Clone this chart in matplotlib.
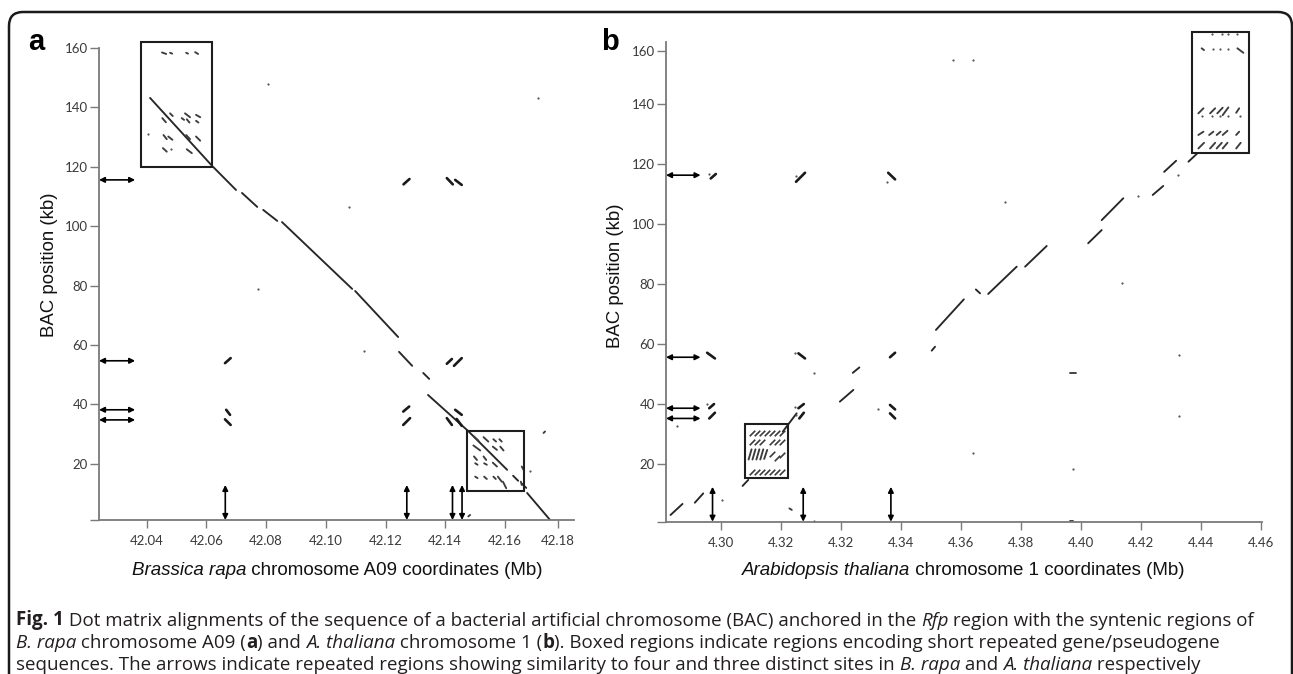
import matplotlib.pyplot as plt
from matplotlib.patches import Rectangle, FancyBboxPatch
from matplotlib.transforms import IdentityTransform

W, H = 1293, 674

# ---------------- panel a : B. rapa A09 (Mb) vs BAC (kb) ----------------
a_xlim = (42.0240, 42.1831)
a_ylim = (1.1, 160)
a_xticks = [42.04, 42.06, 42.08, 42.10, 42.12, 42.14, 42.16, 42.1777]
a_xlabels = ['42.04', '42.06', '42.08', '42.10', '42.12', '42.14', '42.16', '42.18']
a_yticks = [1.1, 20, 40, 60, 80, 100, 120, 140, 160]
a_ylabels = ['', '20', '40', '60', '80', '100', '120', '140', '160']

# main syntenic diagonal, (x0, y0, x1, y1)
a_diag = [
    (42.0411, 143.2, 42.0619, 120.3),
    (42.0622, 120.0, 42.0699, 112.2),
    (42.0719, 111.2, 42.0770, 106.5),
    (42.0790, 105.5, 42.0837, 101.8),
    (42.0853, 101.4, 42.1088, 78.9),
    (42.1098, 78.2, 42.1242, 62.7),
    (42.1245, 57.7, 42.1289, 53.0),
    (42.1326, 50.6, 42.1346, 48.6),
    (42.1342, 43.2, 42.1476, 31.1),
    (42.1476, 31.1, 42.1607, 18.0),
    (42.1627, 16.0, 42.1644, 14.3),
    (42.1657, 13.3, 42.1671, 11.9),
    (42.1674, 10.2, 42.1751, 1.1),
]

# repeated hits off the diagonal
a_repeats = [
    (42.0662, 53.9, 42.0681, 55.6),
    (42.0666, 38.2, 42.0679, 36.5),
    (42.0662, 35.0, 42.0681, 33.1),
    (42.1260, 114.1, 42.1280, 115.9),
    (42.1259, 37.6, 42.1279, 39.3),
    (42.1259, 33.1, 42.1282, 35.4),
    (42.1405, 116.2, 42.1425, 114.1),
    (42.1433, 115.6, 42.1455, 113.9),
    (42.1405, 53.7, 42.1422, 55.3),
    (42.1429, 53.0, 42.1455, 55.6),
    (42.1405, 35.4, 42.1422, 33.1),
    (42.1433, 38.2, 42.1455, 36.5),
    (42.1438, 35.1, 42.1455, 32.8),
]

# short hits inside the two boxes
a_box_hits = [
    (42.0451, 158.5, 42.0465, 158.0), (42.0478, 158.4, 42.0485, 158.1),
    (42.0532, 158.4, 42.0538, 158.1), (42.0562, 158.6, 42.0572, 158.0),
    (42.0452, 136.4, 42.0464, 135.0), (42.0478, 138.0, 42.0487, 137.1),
    (42.0528, 138.0, 42.0545, 136.7), (42.0517, 136.4, 42.0525, 135.8),
    (42.0534, 136.0, 42.0543, 134.9), (42.0565, 137.5, 42.0579, 136.7),
    (42.0565, 135.5, 42.0573, 134.9),
    (42.0456, 130.7, 42.0467, 129.3), (42.0472, 130.2, 42.0486, 129.1),
    (42.0532, 130.7, 42.0545, 129.3), (42.0565, 130.2, 42.0579, 128.8),
    (42.0454, 126.3, 42.0467, 125.1), (42.0534, 125.9, 42.0551, 124.6),
    (42.1496, 29.2, 42.1511, 27.8), (42.1528, 29.0, 42.1544, 27.5),
    (42.1561, 28.3, 42.1570, 27.5), (42.1581, 28.3, 42.1589, 27.5),
    (42.1494, 26.2, 42.1517, 24.5), (42.1559, 25.8, 42.1573, 24.7),
    (42.1584, 25.8, 42.1595, 24.5),
    (42.1496, 22.5, 42.1506, 21.3), (42.1528, 22.5, 42.1537, 21.3),
    (42.1500, 20.2, 42.1508, 19.7), (42.1530, 20.2, 42.1539, 19.7),
    (42.1559, 20.4, 42.1573, 19.1),
    (42.1500, 15.7, 42.1508, 15.2), (42.1530, 15.7, 42.1539, 14.9),
    (42.1561, 15.7, 42.1569, 14.9), (42.1576, 15.7, 42.1589, 14.0),
    (42.1593, 14.0, 42.1604, 11.8),
    (42.1729, 30.4, 42.1734, 30.9), (42.1656, 19.1, 42.1662, 18.0),
    (42.1653, 14.0, 42.1656, 12.9), (42.1483, 2.8, 42.1477, 2.3),
]
a_dots = [(42.0403, 131.1), (42.0480, 126.0), (42.0807, 147.8), (42.0771, 79.0),
          (42.1712, 143.1), (42.1079, 106.6), (42.1126, 58.0), (42.1684, 17.7)]

a_boxes = [(42.0381, 120.1, 42.0620, 162.1), (42.1474, 10.9, 42.1662, 31.2)]
a_harrow_y = [115.6, 54.7, 38.2, 34.8]
a_harrow_end = 42.0361
a_varrow_x = [42.0663, 42.1271, 42.1424, 42.1456]
a_varrow_top = 12.9

# ---------------- panel b : A. thaliana chr 1 (Mb) vs BAC (kb) ----------------
b_xlim = (4.2618, 4.4602)
b_ylim = (0.87, 160.9)
b_xticks = [4.28, 4.30, 4.32, 4.34, 4.36, 4.38, 4.40, 4.42, 4.44, 4.46]
b_xlabels = ['4.30', '4.32', '4.32', '4.34', '4.36', '4.38', '4.40', '4.42', '4.44', '4.46']
b_yticks = [0.87, 20, 40, 60, 80, 100, 120, 140, 157.9]
b_ylabels = ['', '20', '40', '60', '80', '100', '120', '140', '160']

b_diag = [
    (4.2633, 3.1, 4.2673, 6.8),
    (4.2714, 7.2, 4.2742, 10.3),
    (4.2873, 12.8, 4.2892, 14.8),
    (4.3007, 30.9, 4.3053, 37.0),
    (4.3197, 40.9, 4.3242, 44.8),
    (4.3240, 50.5, 4.3262, 52.3),
    (4.3503, 57.9, 4.3514, 59.2),
    (4.3517, 64.8, 4.3610, 75.0),
    (4.3650, 78.3, 4.3664, 77.0),
    (4.3691, 76.8, 4.3786, 85.9),
    (4.3814, 85.9, 4.3886, 92.8),
    (4.4024, 93.7, 4.4069, 98.1),
    (4.4069, 101.4, 4.4141, 108.7),
    (4.4239, 109.8, 4.4274, 112.8),
    (4.4277, 117.5, 4.4317, 121.2),
    (4.4358, 120.9, 4.4388, 123.7),
]

b_repeats = [
    (4.2767, 115.3, 4.2784, 116.8),
    (4.2755, 57.2, 4.2781, 55.3),
    (4.2762, 38.7, 4.2778, 40.1),
    (4.2762, 35.3, 4.2781, 37.2),
    (4.3051, 114.2, 4.3081, 117.2),
    (4.3059, 57.0, 4.3081, 55.3),
    (4.3059, 38.7, 4.3077, 40.1),
    (4.3062, 35.3, 4.3077, 37.2),
    (4.3358, 117.2, 4.3381, 115.0),
    (4.3364, 55.7, 4.3381, 57.2),
    (4.3364, 39.8, 4.3381, 38.3),
    (4.3364, 37.0, 4.3381, 35.3),
]

b_box_hits = [
    (4.4402, 158.7, 4.4410, 158.1), (4.4521, 158.7, 4.4541, 157.2),
    (4.4391, 137.0, 4.4408, 138.7), (4.4430, 137.0, 4.4447, 138.7),
    (4.4454, 137.0, 4.4472, 138.9), (4.4472, 136.4, 4.4491, 139.0),
    (4.4517, 137.2, 4.4527, 138.7),
    (4.4391, 129.8, 4.4408, 130.9), (4.4427, 129.8, 4.4441, 130.9),
    (4.4452, 129.8, 4.4465, 130.9), (4.4472, 129.8, 4.4488, 131.2),
    (4.4517, 129.8, 4.4527, 130.9),
    (4.4391, 125.3, 4.4410, 127.2), (4.4430, 125.3, 4.4447, 127.2),
    (4.4452, 125.3, 4.4469, 127.2), (4.4472, 125.3, 4.4488, 127.2),
    (4.4517, 125.3, 4.4532, 127.2),
    (4.2893, 21.6, 4.2903, 25.0), (4.2906, 21.6, 4.2916, 25.0),
    (4.2919, 21.6, 4.2929, 25.0), (4.2932, 21.6, 4.2942, 25.0),
    (4.2945, 21.8, 4.2955, 24.8),
    (4.3029, 5.3, 4.3037, 4.8), (4.3964, 50.5, 4.3984, 50.5),
    (4.3964, 1.1, 4.3973, 1.1),
]
# small slash-shaped hits in the lower-left box of b
b_box_ticks = [
    (4.2903, 30.3), (4.2920, 30.3), (4.2937, 30.3), (4.2953, 30.3),
    (4.2970, 30.3), (4.2987, 30.3), (4.3003, 30.3),
    (4.2903, 27.3), (4.2920, 27.3), (4.2937, 27.3),
    (4.2970, 27.3), (4.2987, 27.3), (4.3003, 27.3),
    (4.2970, 23.5), (4.2987, 22.0), (4.3003, 23.0),
    (4.2903, 17.5), (4.2920, 17.5), (4.2937, 17.5), (4.2953, 17.5),
    (4.2970, 17.5), (4.2987, 17.5), (4.3003, 17.5),
]
b_dots = [(4.2762, 116.8), (4.2755, 40.1), (4.3051, 116.1), (4.3047, 57.0),
          (4.3047, 39.2), (4.3051, 36.4), (4.3355, 114.2), (4.3325, 38.3),
          (4.3112, 50.5), (4.3112, 1.2), (4.2803, 8.1), (4.2653, 32.9),
          (4.3575, 154.8), (4.3641, 154.8), (4.3747, 107.5), (4.4136, 80.4),
          (4.4328, 56.4), (4.4328, 36.2), (4.3973, 18.3), (4.4191, 109.4),
          (4.4324, 116.4), (4.3641, 23.7),
          (4.4435, 163.4), (4.4469, 163.4), (4.4491, 163.4), (4.4521, 163.4),
          (4.4441, 158.3), (4.4463, 158.4), (4.4491, 158.3),
          (4.4402, 136.1), (4.4435, 136.1), (4.4463, 136.1), (4.4491, 136.1), (4.4530, 136.1)]

b_boxes = [(4.2881, 15.3, 4.3023, 33.4), (4.4369, 123.9, 4.4561, 164.2)]
b_harrow_y = [116.4, 55.7, 38.7, 35.3]
b_harrow_end = 4.2733
b_varrow_x = [4.2773, 4.3075, 4.3367]
b_varrow_top = 12.5

caption = [
    [("Fig. 1", "b"), (" Dot matrix alignments of the sequence of a bacterial artificial chromosome (BAC) anchored in the ", "n"),
     ("Rfp", "i"), (" region with the syntenic regions of", "n")],
    [("B. rapa", "i"), (" chromosome A09 (", "n"), ("a", "b"), (") and ", "n"), ("A. thaliana", "i"),
     (" chromosome 1 (", "n"), ("b", "b"), ("). Boxed regions indicate regions encoding short repeated gene/pseudogene", "n")],
    [("sequences. The arrows indicate repeated regions showing similarity to four and three distinct sites in ", "n"),
     ("B. rapa", "i"), (" and ", "n"), ("A. thaliana", "i"), (" respectively", "n")],
]

AXIS_GREY = '#7a7a7a'
INK = '#262626'

fig = plt.figure(figsize=(W / 100, H / 100), dpi=100)


def px_rect(left, top, right, bottom):
    return [left / W, 1 - bottom / H, (right - left) / W, (bottom - top) / H]


def style_axes(ax, xlim, ylim, xticks, xlabels, yticks, ylabels):
    ax.set_xlim(*xlim)
    ax.set_ylim(*ylim)
    for s in ['top', 'right']:
        ax.spines[s].set_visible(False)
    for s in ['left', 'bottom']:
        ax.spines[s].set_color(AXIS_GREY)
        ax.spines[s].set_linewidth(1.3)
    ax.set_xticks(xticks)
    ax.set_xticklabels(xlabels, family='Lato', fontsize=9.5, color='#3a3a3a')
    ax.set_yticks(yticks)
    ax.set_yticklabels(ylabels, family='Lato', fontsize=9.5, color='#3a3a3a')
    ax.tick_params(axis='x', length=6, width=1, color=AXIS_GREY, pad=5)
    ax.tick_params(axis='y', length=6.5, width=1, color=AXIS_GREY, pad=1.5)
    ax.patch.set_alpha(0)


def draw_panel(ax, diag, repeats, hits, dots, boxes, hy, hend, vx, vtop, xlim, ylim):
    for x0, y0, x1, y1 in diag:
        ax.plot([x0, x1], [y0, y1], color=INK, lw=1.35, solid_capstyle='round')
    for x0, y0, x1, y1 in repeats:
        ax.plot([x0, x1], [y0, y1], color='#1a1a1a', lw=1.9, solid_capstyle='round')
    for x0, y0, x1, y1 in hits:
        ax.plot([x0, x1], [y0, y1], color='#3c3c3c', lw=1.35, solid_capstyle='round', clip_on=False)
    ax.plot([d[0] for d in dots], [d[1] for d in dots], 'o', ms=1.6, color='#555555',
            mew=0, clip_on=False)
    for x0, y0, x1, y1 in boxes:
        ax.add_patch(Rectangle((x0, y0), x1 - x0, y1 - y0, fill=False, lw=1.5,
                               ec='#1e1e1e', clip_on=False, zorder=3))
    arrow = dict(arrowstyle='<|-|>', color='black', lw=1.2, mutation_scale=8,
                 shrinkA=0, shrinkB=0)
    for y in hy:
        ax.annotate('', xy=(hend, y), xytext=(xlim[0], y), arrowprops=arrow)
    for x in vx:
        ax.annotate('', xy=(x, vtop), xytext=(x, ylim[0]), arrowprops=arrow)


# panel a
ax_a = fig.add_axes(px_rect(99, 48, 574, 520))
style_axes(ax_a, a_xlim, a_ylim, a_xticks, a_xlabels, a_yticks, a_ylabels)
draw_panel(ax_a, a_diag, a_repeats, a_box_hits, a_dots, a_boxes,
           a_harrow_y, a_harrow_end, a_varrow_x, a_varrow_top, a_xlim, a_ylim)

# panel b
ax_b = fig.add_axes(px_rect(666, 41.7, 1261.7, 521.7))
style_axes(ax_b, b_xlim, b_ylim, b_xticks, b_xlabels, b_yticks, b_ylabels)
draw_panel(ax_b, b_diag, b_repeats, b_box_hits, b_dots, b_boxes,
           b_harrow_y, b_harrow_end, b_varrow_x, b_varrow_top, b_xlim, b_ylim)
ax_b.plot([p[0] for p in b_box_ticks], [p[1] for p in b_box_ticks], linestyle='none',
          marker=[(-1, -1), (1, 1)], ms=4, mew=1.2, color='#3c3c3c')

# axis titles and panel letters
lab = dict(family='Liberation Sans', fontsize=13.4, color='#111111')
fig.text(49 / W, 1 - 265 / H, 'BAC position (kb)', rotation=90, ha='center', va='center', **lab)
fig.text(616 / W, 1 - 276 / H, 'BAC position (kb)', rotation=90, ha='center', va='center', **lab)

renderer = fig.canvas.get_renderer()


def mixed_line(pieces, x_px, y_px, fontsize, family, ha='left', color='#111111'):
    arts = []
    x = x_px
    for txt, st in pieces:
        kw = dict(fontsize=fontsize, family=family, color=color, va='baseline', ha='left')
        if st == 'b':
            kw['weight'] = 'bold'
        if st == 'i':
            kw['style'] = 'italic'
        t = fig.text(x / W, 1 - y_px / H, txt, **kw)
        w = t.get_window_extent(renderer).width
        arts.append((t, x))
        x += w
    if ha == 'center':
        shift = (x - x_px) / 2
        for t, x0 in arts:
            t.set_x((x0 - shift) / W)


mixed_line([("Brassica rapa", "i"), (" chromosome A09 coordinates (Mb)", "n")],
           337, 575, 13.5, 'Liberation Sans', ha='center')
mixed_line([("Arabidopsis thaliana", "i"), (" chromosome 1 coordinates (Mb)", "n")],
           963, 575, 13.5, 'Liberation Sans', ha='center')

fig.text(28 / W, 1 - 50 / H, 'a', family='Liberation Sans', weight='bold', fontsize=21,
         va='baseline', ha='left', color='black')
fig.text(601 / W, 1 - 50 / H, 'b', family='Liberation Sans', weight='bold', fontsize=21,
         va='baseline', ha='left', color='black')

# caption
for i, line in enumerate(caption):
    mixed_line(line, 16, 625.5 + 22.5 * i, 13.5, 'Open Sans', color='#231f20')

# rounded frame around the figure
frame = FancyBboxPatch((9, -20), 1283, 682, boxstyle='round,pad=0,rounding_size=14',
                       transform=IdentityTransform(), fill=False, lw=1.8, ec='#1a1a1a')
fig.add_artist(frame)

fig.savefig('out.png', dpi=100)
